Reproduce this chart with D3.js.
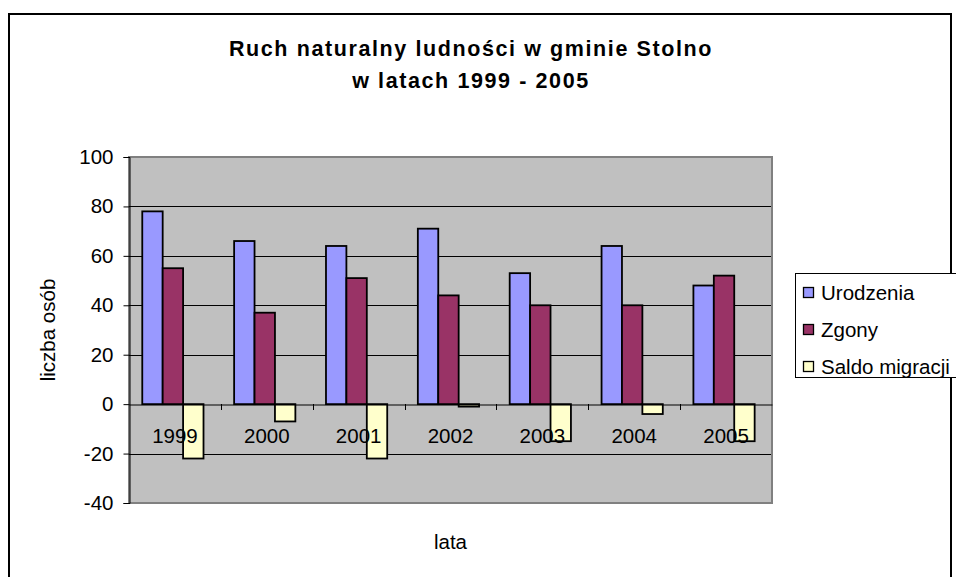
<!DOCTYPE html>
<html>
<head>
<meta charset="utf-8">
<script src="https://cdn.jsdelivr.net/npm/d3@7"></script>
<style>
  html, body { margin: 0; padding: 0; background: #fff; }
  svg { display: block; font-family: "Liberation Sans", Arial, sans-serif; }
</style>
</head>
<body>
<svg id="chart" width="956" height="577"></svg>
<script>
const years = ["1999", "2000", "2001", "2002", "2003", "2004", "2005"];
const seriesNames = ["Urodzenia", "Zgony", "Saldo migracji"];
const urodzenia = [78, 66, 64, 71, 53, 64, 48];
const zgony = [55, 37, 51, 44, 40, 40, 52];
const saldo = [-22, -7, -22, -1, -15, -4, -15];
const yTicks = [-40, -20, 0, 20, 40, 60, 80, 100];
const colors = ["#9999FF", "#993366", "#FFFFCC"];

const seriesValues = [urodzenia, zgony, saldo];
const svg = d3.select("#chart");
const FS = 20.5;

// outer chart border
svg.append("rect").attr("x", 9).attr("y", 14).attr("width", 942).attr("height", 580)
  .attr("fill", "#fff").attr("stroke", "#000").attr("stroke-width", 2);

const plotL = 129, plotR = 772, plotT = 157, plotB = 503;
const y = d3.scaleLinear().domain([-40, 100]).range([plotB, plotT]);
const x = d3.scaleBand().domain(years).range([plotL, plotR]).paddingInner(0).paddingOuter(0);
const w = x.bandwidth() / 4.5;
const xs = d3.scaleBand().domain(seriesNames).range([0.65 * w, 3.65 * w]);

// plot area
svg.append("rect").attr("x", plotL).attr("y", plotT).attr("width", plotR - plotL).attr("height", plotB - plotT)
  .attr("fill", "#C0C0C0").attr("stroke", "#808080").attr("stroke-width", 2);

// gridlines
svg.append("g").selectAll("line").data(yTicks.filter(t => t !== 0 && t !== -40 && t !== 100)).join("line")
  .attr("x1", plotL).attr("x2", plotR - 1)
  .attr("y1", d => Math.round(y(d)) + 0.5).attr("y2", d => Math.round(y(d)) + 0.5)
  .attr("stroke", "#000").attr("stroke-width", 1);

// y axis
const yAxis = d3.axisLeft(y).tickValues(yTicks).tickSize(6).tickPadding(10).tickFormat(d => String(d));
const gy = svg.append("g").attr("transform", `translate(${plotL + 0.5},0)`).call(yAxis);
gy.select(".domain").attr("stroke", "#000");
gy.selectAll(".tick line").attr("stroke", "#000");
gy.selectAll(".tick text").attr("font-size", FS).attr("fill", "#000")
  .attr("font-family", "Liberation Sans, Arial, sans-serif");

// bars
const groups = svg.append("g").selectAll("g").data(years).join("g")
  .attr("transform", d => `translate(${x(d)},0)`);
groups.selectAll("rect").data((d, i) => seriesNames.map((s, k) => ({ s, k, v: seriesValues[k][i] }))).join("rect")
  .attr("x", d => xs(d.s))
  .attr("width", xs.bandwidth())
  .attr("y", d => y(Math.max(0, d.v)))
  .attr("height", d => Math.abs(y(d.v) - y(0)))
  .attr("fill", d => colors[d.k])
  .attr("stroke", "#000").attr("stroke-width", 1.8);

// x axis line at 0 and ticks
const xAxis = d3.axisBottom(x).tickSize(0).tickPadding(24);
const gx = svg.append("g").attr("transform", `translate(0,${Math.round(y(0)) + 0.5})`).call(xAxis);
gx.select(".domain").attr("stroke", "#000");
gx.selectAll(".tick text").attr("font-size", FS).attr("fill", "#000")
  .attr("font-family", "Liberation Sans, Arial, sans-serif");
svg.append("g").selectAll("line").data(years.slice(1)).join("line")
  .attr("x1", d => Math.round(x(d)) + 0.5).attr("x2", d => Math.round(x(d)) + 0.5)
  .attr("y1", Math.round(y(0))).attr("y2", Math.round(y(0)) + 6)
  .attr("stroke", "#000");

// titles
const title = svg.append("text").attr("x", 471).attr("text-anchor", "middle")
  .attr("font-weight", "bold").attr("font-size", 21.5).attr("letter-spacing", 1.6).attr("fill", "#000");
title.append("tspan").attr("x", 471).attr("y", 56).text("Ruch naturalny ludności w gminie Stolno");
title.append("tspan").attr("x", 471).attr("y", 88).text("w latach 1999 - 2005");

svg.append("text").attr("x", (plotL + plotR) / 2).attr("y", 549).attr("text-anchor", "middle")
  .attr("font-size", FS).text("lata");
svg.append("text").attr("transform", `translate(55,${(plotT + plotB) / 2}) rotate(-90)`)
  .attr("text-anchor", "middle").attr("font-size", FS).text("liczba osób");

// legend
const leg = svg.append("g");
leg.append("rect").attr("x", 795.5).attr("y", 273.5).attr("width", 170).attr("height", 104)
  .attr("fill", "#fff").attr("stroke", "#000");
const li = leg.selectAll("g").data(seriesNames).join("g")
  .attr("transform", (d, i) => `translate(0,${293 + i * 37})`);
li.append("rect").attr("x", 803.5).attr("y", -5.5).attr("width", 10).attr("height", 10)
  .attr("fill", (d, i) => colors[i]).attr("stroke", "#000").attr("stroke-width", 1.3);
li.append("text").attr("x", 821).attr("y", 7).attr("font-size", FS).text(d => d);
</script>
</body>
</html>
